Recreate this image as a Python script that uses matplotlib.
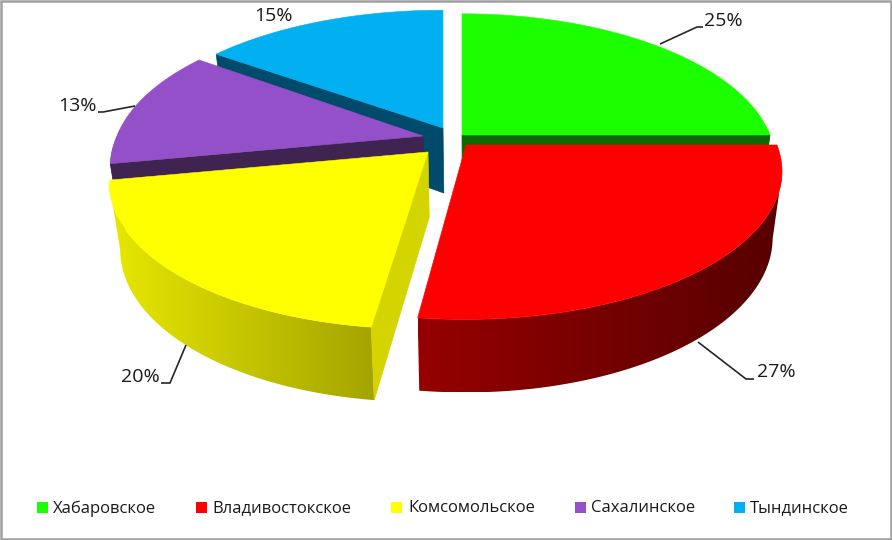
import numpy as np
import matplotlib
matplotlib.use("Agg")
import matplotlib.pyplot as plt
from matplotlib.colors import LinearSegmentedColormap
from matplotlib.patches import Polygon, Rectangle

categories = ["Хабаровское", "Владивостокское", "Комсомольское", "Сахалинское", "Тындинское"]
shares = [25, 27, 20, 13, 15]

top_colors = ["#1BFF00", "#FF0000", "#FFFF00", "#9450C8", "#00B0F0"]
cut_colors = ["#0C6A00", "#6A0000", "#D4D400", "#3F2350", "#004B6B"]
wall_light = ["#109900", "#960000", "#E8E800", "#5A2E80", "#006C98"]
wall_dark = ["#0A6000", "#560000", "#A4A400", "#3F2350", "#004B6B"]

# geometry of the exploded 3d pie, in pixels
apex_x = [462, 466, 428, 423, 443]
apex_y = [135, 145, 152, 136, 128]
radius = [308, 311, 312, 306, 310]
flat_y = [143, 143, 145, 143, 139]
persp = 0.18
depth = 65
vanish_x = 470
draw_order = [4, 3, 0, 2, 1]

legend_box_x = [37, 196, 391, 575, 734]
legend_text_x = [53, 212, 408, 591, 750]

# label position, then leader line points
label_pos = [(723, 21), (776, 372), (140, 377), (77, 106), (273, 16)]
leaders = [
    [(660, 44), (697, 27), (703, 27)],
    [(698, 342), (746, 379), (754, 379)],
    [(186, 345), (170, 383), (161, 383)],
    [(135, 106), (103, 112), (98, 112)],
    [],
]


def project(i, theta, rim=1.0, low=False):
    """Slice i: point at angle theta (clockwise from the top) on the disc."""
    v = np.cos(theta) * rim
    s = 1 / (1 + persp * v)
    # the front half also spreads away from the vanishing point
    spread = np.where(v < 0, s - 1, 0.0)
    x = apex_x[i] + radius[i] * np.sin(theta) * rim * s + (apex_x[i] - vanish_x) * spread
    y = apex_y[i] - flat_y[i] * v * s
    if low:
        x = vanish_x + (x - vanish_x) * 0.97
        y = y + depth / (1 + 0.11 * v)
    return x, y


def draw_outer_wall(ax, i, thetas):
    front = thetas[np.cos(thetas) < 0.05]
    if len(front) < 2:
        return
    # keep only the part between the silhouette points, the outline folds beyond them
    xt, _ = project(i, front)
    first, last = sorted((int(np.argmin(xt)), int(np.argmax(xt))))
    front = front[first:last + 1]
    if len(front) < 2:
        return
    xt, yt = project(i, front)
    xb, yb = project(i, front, low=True)
    pts = list(zip(xt, yt)) + list(zip(xb[::-1], yb[::-1]))
    shape = Polygon(pts, facecolor="none", edgecolor="none")
    ax.add_patch(shape)

    # left to right shading, clipped to the wall outline
    cmap = LinearSegmentedColormap.from_list("wall", [wall_light[i], wall_dark[i]])
    ramp = np.linspace(0, 1, 256).reshape(1, -1)
    left = min(xt.min(), xb.min())
    right = max(xt.max(), xb.max())
    top = min(yt.min(), yb.min())
    bottom = max(yt.max(), yb.max())
    # zorder 1 like the patches, images would go under the frame otherwise
    img = ax.imshow(ramp, cmap=cmap, extent=(left, right, bottom, top),
                    aspect="auto", interpolation="bilinear", zorder=1)
    img.set_clip_path(shape)


def draw_cut_wall(ax, i, theta, inner):
    # only the cut faces that look at the viewer are drawn
    ax0, ay0 = project(i, theta, rim=0.0)
    rx, ry = project(i, theta)
    mx, my = project(i, inner)
    dx, dy = rx - ax0, ry - ay0
    side_down = dx * 1.0
    side_inner = dx * (my - ay0) - dy * (mx - ax0)
    if side_down * side_inner >= 0:
        return
    bx, by = project(i, theta, low=True)
    cx, cy = project(i, theta, rim=0.0, low=True)
    ax.add_patch(Polygon([(ax0, ay0), (rx, ry), (bx, by), (cx, cy)],
                         facecolor=cut_colors[i], edgecolor=cut_colors[i], linewidth=0.5))


def draw_slice(ax, i, start, end):
    thetas = np.linspace(start, end, 120)
    mid = (start + end) / 2
    draw_outer_wall(ax, i, thetas)
    draw_cut_wall(ax, i, start, mid)
    draw_cut_wall(ax, i, end, mid)
    x, y = project(i, thetas)
    pts = [(apex_x[i], apex_y[i])] + list(zip(x, y))
    ax.add_patch(Polygon(pts, facecolor=top_colors[i], edgecolor=top_colors[i], linewidth=0.4))


def main():
    fig = plt.figure(figsize=(8.92, 5.4), dpi=100)
    ax = fig.add_axes([0, 0, 1, 1])
    ax.axis("off")

    # chart frame
    ax.add_patch(Rectangle((1, 1), 890, 538, facecolor="white", edgecolor="#A0A0A0", linewidth=1.8))

    # slice angles come from the shares
    edges = np.cumsum([0] + shares) / sum(shares) * 2 * np.pi
    for i in draw_order:
        draw_slice(ax, i, edges[i], edges[i + 1])

    # leader lines and percent labels
    for i, share in enumerate(shares):
        if leaders[i]:
            lx, ly = zip(*leaders[i])
            ax.plot(lx, ly, color="#262626", linewidth=1.2, solid_capstyle="butt")
        ax.text(label_pos[i][0], label_pos[i][1], f"{share}%", fontsize=14,
                family="Open Sans", color="#1A1A1A", ha="center", va="center")

    # legend
    for i, name in enumerate(categories):
        ax.add_patch(Rectangle((legend_box_x[i], 502), 11, 11, facecolor=top_colors[i], edgecolor="none"))
        ax.text(legend_text_x[i], 508.5, name, fontsize=12, family="Open Sans",
                color="#1A1A1A", ha="left", va="center")

    # imshow resets the limits, so they are set last
    ax.set_xlim(0, 892)
    ax.set_ylim(540, 0)

    fig.savefig("out.png", dpi=100)


if __name__ == "__main__":
    main()
